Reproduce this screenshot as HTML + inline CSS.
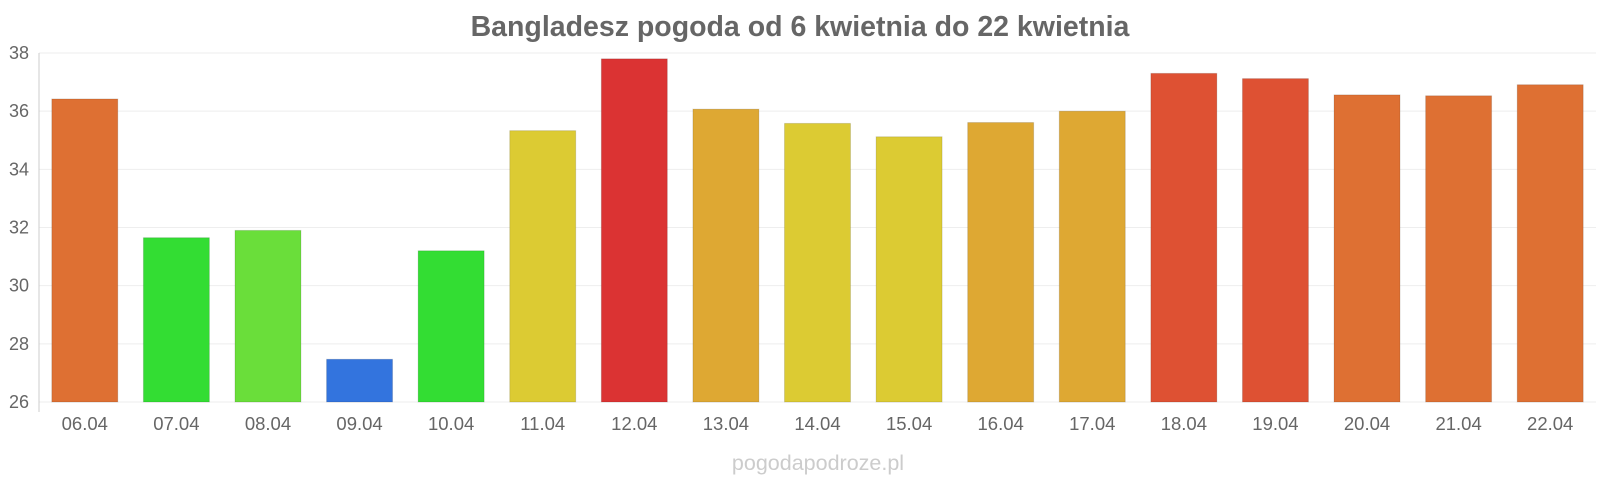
<!DOCTYPE html>
<html><head><meta charset="utf-8"><style>
body{margin:0;background:#fff;font-family:"Liberation Sans",sans-serif}
svg text{font-family:"Liberation Sans",sans-serif}
</style></head><body>
<svg id="chart" width="1600" height="480">
<text x="800" y="36" text-anchor="middle" font-size="28.5" font-weight="bold" fill="#666">Bangladesz pogoda od 6 kwietnia do 22 kwietnia</text>
<text x="818" y="470" text-anchor="middle" font-size="21.5" fill="#ccc">pogodapodroze.pl</text>
<g id="grid"></g><g id="bars"></g><g id="axes"></g>
</svg>
<script>
const categories=["06.04","07.04","08.04","09.04","10.04","11.04","12.04","13.04","14.04","15.04","16.04","17.04","18.04","19.04","20.04","21.04","22.04"];
const values=[36.42,31.65,31.9,27.47,31.2,35.33,37.8,36.07,35.58,35.12,35.61,36.0,37.3,37.12,36.56,36.53,36.91];
const colors=["#de7033","#33dd33","#6ade3a","#3374de","#33dd33","#dccb33","#db3333","#dea833","#dccb33","#dccb33","#dea833","#dea833","#de5133","#de5133","#de7033","#de7033","#de7033"];
const yTicks=[26,28,30,32,34,36,38];
const NS="http://www.w3.org/2000/svg";
const left=39,right=1596,top0=53,bot=402,ymin=26,ymax=38;
const y=v=>bot-(v-ymin)/(ymax-ymin)*(bot-top0);
const band=(right-left)/categories.length;
const x=i=>left+band*i+band/2;
function mk(t,a,p){const e=document.createElementNS(NS,t);for(const k in a)e.setAttribute(k,a[k]);p.appendChild(e);return e;}
const grid=document.getElementById('grid'),bars=document.getElementById('bars'),axes=document.getElementById('axes');
yTicks.forEach(t=>{
 const l=mk('line',{x1:left,x2:right,y1:y(t),y2:y(t),stroke:'#eee','stroke-width':1},grid);
 
 
 const tx=mk('text',{x:29,y:y(t)+6,'text-anchor':'end','font-size':18,fill:'#666'},axes);
 tx.textContent=t;
 
 
});
const ax=mk('line',{x1:left,x2:left,y1:top0,y2:bot+10,stroke:'#ccc','stroke-width':1},axes);


const bw=66;
categories.forEach((c,i)=>{
 const r=mk('rect',{x:x(i)-bw/2,y:y(values[i]),width:bw,height:bot-y(values[i]),fill:colors[i],stroke:'rgba(0,0,0,0.12)','stroke-width':1},bars);
 
 
 const tx=mk('text',{x:x(i),y:430,'text-anchor':'middle','font-size':18.5,fill:'#666'},axes);
 tx.textContent=c;
 
 
});
</script>
</body></html>
